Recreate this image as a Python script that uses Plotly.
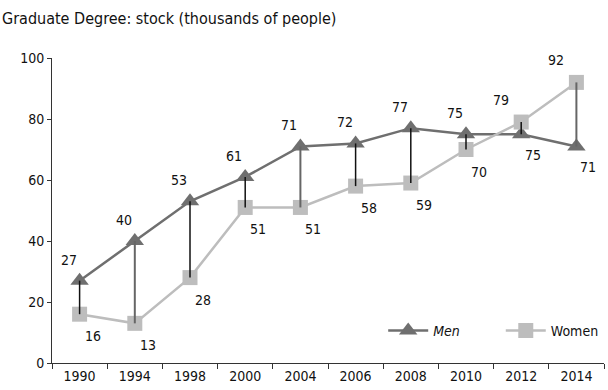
import plotly.graph_objects as go

years = ["1990", "1994", "1998", "2000", "2004", "2006", "2008", "2010", "2012", "2014"]
men = [27, 40, 53, 61, 71, 72, 77, 75, 75, 71]
women = [16, 13, 28, 51, 51, 58, 59, 70, 79, 92]
y_ticks = [0, 20, 40, 60, 80, 100]

FONT = "DejaVu Sans Condensed, Arial Narrow, sans-serif"
MEN_C = "#6f6f6f"
WOMEN_C = "#bdbdbd"

fig = go.Figure()

fig.add_trace(go.Scatter(
    x=years, y=men, mode="lines+markers", name="<i>Men</i>", legend="legend",
    line=dict(color=MEN_C, width=2.5),
    marker=dict(symbol="triangle-up", size=16, color=MEN_C),
))
fig.add_trace(go.Scatter(
    x=years, y=women, mode="lines+markers", name="Women", legend="legend2",
    line=dict(color=WOMEN_C, width=2.5),
    marker=dict(symbol="square", size=15, color=WOMEN_C),
))

conn_colors = ["#111", "#666", "#111", "#111", "#666", "#111", "#111", "#111", "#111", "#666"]
for yr, m, w, c in zip(years, men, women, conn_colors):
    fig.add_trace(go.Scatter(
        x=[yr, yr], y=[w, m], mode="lines", showlegend=False, hoverinfo="skip",
        line=dict(color=c, width=2 if c == "#666" else 1.5),
    ))

annotations = []
for i, (m, w) in enumerate(zip(men, women)):
    if i < 8:
        annotations.append(dict(x=i, y=m, text=str(m), xshift=-11, yshift=21))
        annotations.append(dict(x=i, y=w, text=str(w), xshift=13, yshift=-22))
    else:
        annotations.append(dict(x=i, y=m, text=str(m), xshift=12, yshift=-21))
        annotations.append(dict(x=i, y=w, text=str(w), xshift=-20, yshift=22))
for a in annotations:
    a.update(showarrow=False, xref="x", yref="y", font=dict(family=FONT, size=14, color="#111"))

annotations.append(dict(
    x=-52/552, y=(363-18)/305, xref="paper", yref="paper", xanchor="left", yanchor="middle",
    text="Graduate Degree: stock (thousands of people)",
    showarrow=False, font=dict(family=FONT, size=16, color="#111"),
))

leg_common = dict(orientation="h", y=0.105, xanchor="left", yanchor="middle",
                  font=dict(family=FONT, size=14, color="#111"), bgcolor="rgba(0,0,0,0)",
                  itemwidth=40)

fig.update_layout(
    width=608, height=390,
    margin=dict(l=52, r=4, t=58, b=27),
    paper_bgcolor="white", plot_bgcolor="white",
    font=dict(family=FONT, size=14, color="#111"),
    annotations=annotations,
    showlegend=True,
    legend=dict(x=0.6, **leg_common),
    legend2=dict(x=0.813, **leg_common),
)
fig.update_xaxes(
    type="category", range=[-0.5, 9.5], showgrid=False, showline=True, linecolor="#333", linewidth=1,
    ticks="outside", tickson="boundaries", ticklen=5, tickcolor="#333", tickfont=dict(size=14),
)
fig.update_yaxes(
    range=[0, 100], tickvals=y_ticks, showgrid=False, showline=True, linecolor="#333", linewidth=1,
    ticks="outside", ticklen=4, tickcolor="#333", zeroline=False, tickfont=dict(size=14),
)

fig.write_html("out.html")
